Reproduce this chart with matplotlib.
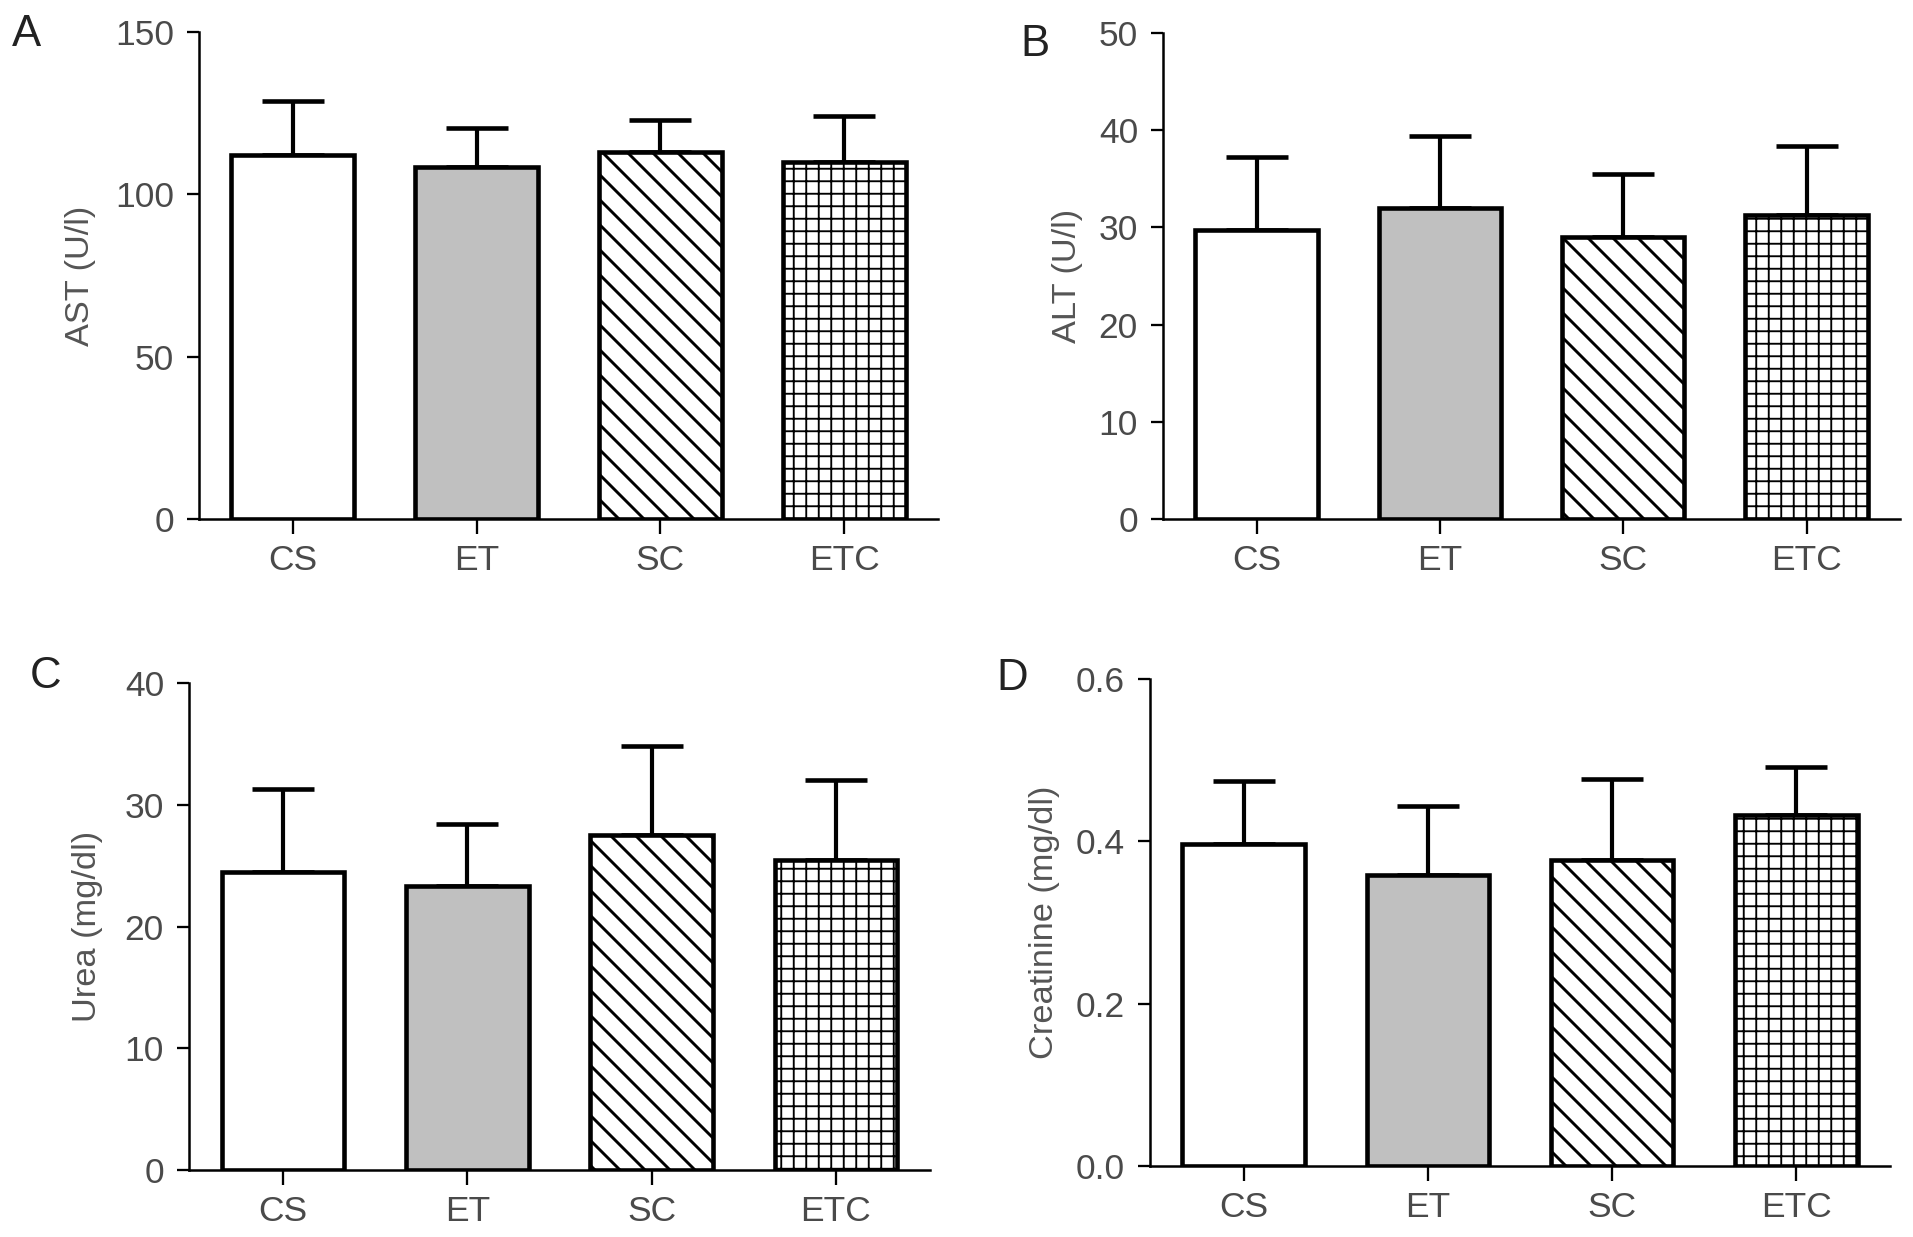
import matplotlib
matplotlib.use('Agg')
import matplotlib.pyplot as plt
import numpy as np

# group labels
groups = ['CS', 'ET', 'SC', 'ETC']

# mean and SD per panel
ast_mean = [112.0, 108.5, 113.0, 110.0]
ast_sd = [16.7, 11.8, 9.8, 14.0]
alt_mean = [29.7, 31.95, 29.0, 31.25]
alt_sd = [7.5, 7.45, 6.5, 7.15]
urea_mean = [24.5, 23.3, 27.5, 25.5]
urea_sd = [6.8, 5.1, 7.3, 6.55]
creat_mean = [0.397, 0.358, 0.377, 0.432]
creat_sd = [0.077, 0.086, 0.100, 0.060]

W, H = 1913, 1237
DPI = 150
plt.rcParams['font.family'] = ['Liberation Sans', 'DejaVu Sans']

fig = plt.figure(figsize=(W / DPI, H / DPI), dpi=DPI)

def px_axes(l, r, t, b):
    return fig.add_axes([l / W, 1 - b / H, (r - l) / W, (b - t) / H])

panels = [
    dict(box=(199, 938, 32, 519), mean=ast_mean, sd=ast_sd, ylim=(0, 150),
         yticks=[0, 50, 100, 150], ylabel='AST (U/l)', lx=-0.139, fmt='{:.0f}',
         letter='A', pos=(12, 14)),
    dict(box=(1163, 1900, 33, 519), mean=alt_mean, sd=alt_sd, ylim=(0, 50),
         yticks=[0, 10, 20, 30, 40, 50], ylabel='ALT (U/l)', lx=-0.108, fmt='{:.0f}',
         letter='B', pos=(1020, 24)),
    dict(box=(189, 930, 683, 1170), mean=urea_mean, sd=urea_sd, ylim=(0, 40),
         yticks=[0, 10, 20, 30, 40], ylabel='Urea (mg/dl)', lx=-0.116, fmt='{:.0f}',
         letter='C', pos=(30, 656)),
    dict(box=(1150, 1890, 679, 1166), mean=creat_mean, sd=creat_sd, ylim=(0, 0.6),
         yticks=[0.0, 0.2, 0.4, 0.6], ylabel='Creatinine (mg/dl)', lx=-0.122, fmt='{:.1f}',
         letter='D', pos=(996, 658)),
]

fills = ['white', '#c0c0c0', 'white', 'white']
hatches = [None, None, '\\\\', '++']
hatch_lw = [1.0, 1.0, 1.4, 0.9]

x = np.arange(len(groups))
for p in panels:
    ax = px_axes(*p['box'])
    ax.errorbar(x, p['mean'], yerr=[np.zeros(len(x)), p['sd']], fmt='none',
                ecolor='black', elinewidth=2.0, capsize=15, capthick=2.2, zorder=1)
    for i in range(len(groups)):
        with plt.rc_context({'hatch.linewidth': hatch_lw[i]}):
            b = ax.bar(x[i], p['mean'][i], width=0.667, color=fills[i],
                       edgecolor='black', linewidth=2.2, hatch=hatches[i], zorder=2)
            for patch in b:
                if hasattr(patch, 'set_hatch_linewidth'):
                    patch.set_hatch_linewidth(hatch_lw[i])
    ax.set_xlim(-0.51, 3.51)
    ax.set_ylim(*p['ylim'])
    ax.set_yticks(p['yticks'])
    ax.set_yticklabels([p['fmt'].format(v) for v in p['yticks']])
    ax.set_xticks(x)
    ax.set_xticklabels(groups)
    for s in ['top', 'right']:
        ax.spines[s].set_visible(False)
    for s in ['left', 'bottom']:
        ax.spines[s].set_linewidth(1.2)
    ax.tick_params(axis='y', length=6, width=1.1, pad=6, labelsize=17, labelcolor='#4a4a4a')
    ax.tick_params(axis='x', length=7, width=1.1, pad=5, labelsize=17, labelcolor='#4a4a4a')
    ax.set_ylabel(p['ylabel'], fontsize=16.5, color='#555555')
    ax.yaxis.set_label_coords(p['lx'], 0.5)
    fig.text(p['pos'][0] / W, 1 - p['pos'][1] / H, p['letter'], fontsize=21,
             color='#222222', ha='left', va='top')

fig.savefig('out.png', dpi=DPI)
